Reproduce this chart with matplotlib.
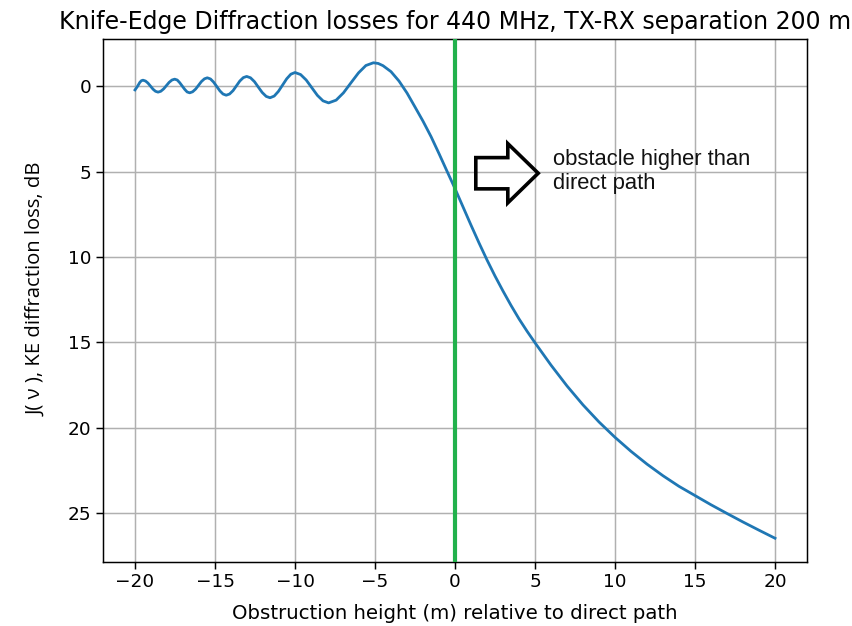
import matplotlib
matplotlib.use("Agg")
import matplotlib.pyplot as plt

# Obstruction height (m) and knife-edge diffraction loss J(nu) in dB
height_m = [
    -20.0, -19.85, -19.7, -19.6, -19.5,
    -19.34, -19.19, -19.03, -18.87, -18.72, -18.56,
    -18.39, -18.21, -18.04, -17.87, -17.69, -17.52,
    -17.36, -17.21, -17.05, -16.89, -16.74, -16.58,
    -16.4, -16.21, -16.03, -15.85, -15.66, -15.48,
    -15.28, -15.09, -14.89, -14.69, -14.5, -14.3,
    -14.09, -13.87, -13.66, -13.45, -13.23, -13.02,
    -12.78, -12.53, -12.29, -12.05, -11.8, -11.56,
    -11.3, -11.04, -10.78, -10.52, -10.26, -10.0,
    -9.65, -9.3, -8.95, -8.6, -8.25, -7.9,
    -7.43, -6.97, -6.5, -6.03, -5.57, -5.1,
    -4.8, -4.5, -4.0, -3.5, -3.0, -2.5, -2.0, -1.5, -1.0, -0.5,
    0.0, 0.5, 1.0, 1.5, 2.0, 2.5, 3.0, 3.5, 4.0, 4.5,
    5.0, 6.0, 7.0, 8.0, 9.0, 10.0, 11.0, 12.0, 13.0, 14.0,
    15.0, 16.0, 17.0, 18.0, 19.0, 20.0,
]
loss_db = [
    0.22, 0.02, -0.22, -0.32, -0.35,
    -0.3, -0.18, 0.0, 0.18, 0.3, 0.35,
    0.3, 0.16, -0.03, -0.22, -0.36, -0.41,
    -0.36, -0.21, -0.01, 0.19, 0.34, 0.39,
    0.33, 0.17, -0.05, -0.27, -0.43, -0.49,
    -0.42, -0.24, 0.02, 0.28, 0.46, 0.53,
    0.46, 0.26, -0.02, -0.3, -0.5, -0.57,
    -0.49, -0.26, 0.06, 0.37, 0.6, 0.68,
    0.58, 0.31, -0.06, -0.43, -0.7, -0.8,
    -0.68, -0.36, 0.09, 0.54, 0.86, 0.98,
    0.82, 0.39, -0.2, -0.78, -1.21, -1.37,
    -1.33, -1.2, -0.85, -0.3, 0.4, 1.22, 2.05, 2.95, 3.95, 4.98,
    6.0, 7.07, 8.14, 9.18, 10.18, 11.12, 12.0, 12.84, 13.63, 14.35,
    15.03, 16.34, 17.56, 18.67, 19.67, 20.57, 21.39, 22.14, 22.82, 23.44,
    23.98, 24.52, 25.03, 25.53, 26.01, 26.48,
]

y_ticks = [0, 5, 10, 15, 20, 25]
x_ticks = [-20, -15, -10, -5, 0, 5, 10, 15, 20]
note_text = "obstacle higher than\ndirect path"

plt.rcParams["font.family"] = ["DejaVu Sans"]
fig = plt.figure(figsize=(8.52, 6.26), dpi=100)
ax = fig.add_axes([103 / 852, 1 - 562 / 626, (807 - 103) / 852, (562 - 39) / 626])

ax.plot(height_m, loss_db, color="#1f77b4", lw=2.0, zorder=2)
ax.axvline(0, color="#22b14c", lw=3.0, zorder=3)
ax.invert_yaxis()
ax.set_xticks(x_ticks)
ax.set_yticks(y_ticks)
ax.grid(True, color="#b0b0b0", lw=1.07)
ax.tick_params(labelsize=13.3, width=1.07, length=4.7)
for s in ax.spines.values():
    s.set_linewidth(1.07)

ax.set_title("Knife-Edge Diffraction losses for 440 MHz, TX-RX separation 200 m",
             fontsize=17, pad=7)
ax.set_xlabel("Obstruction height (m) relative to direct path", fontsize=14.2,
              labelpad=9)
ax.set_ylabel("J( \u03bd ), KE diffraction loss, dB", fontsize=14.6,
              family=["Open Sans", "DejaVu Sans"])
ax.yaxis.set_label_coords(-0.08, 0.522)

# hollow block arrow pointing at the note
ax.arrow(1.3, 5.1, 3.9, 0, width=1.83, head_width=3.47, head_length=1.9,
         length_includes_head=True, fill=False, ec="black", lw=2.6, zorder=4)
ax.text(6.1, 5.0, note_text, family=["Liberation Sans"], fontsize=15.8,
        va="center", ha="left", color="#111111", linespacing=1.2)

fig.savefig("out.png", dpi=100)
